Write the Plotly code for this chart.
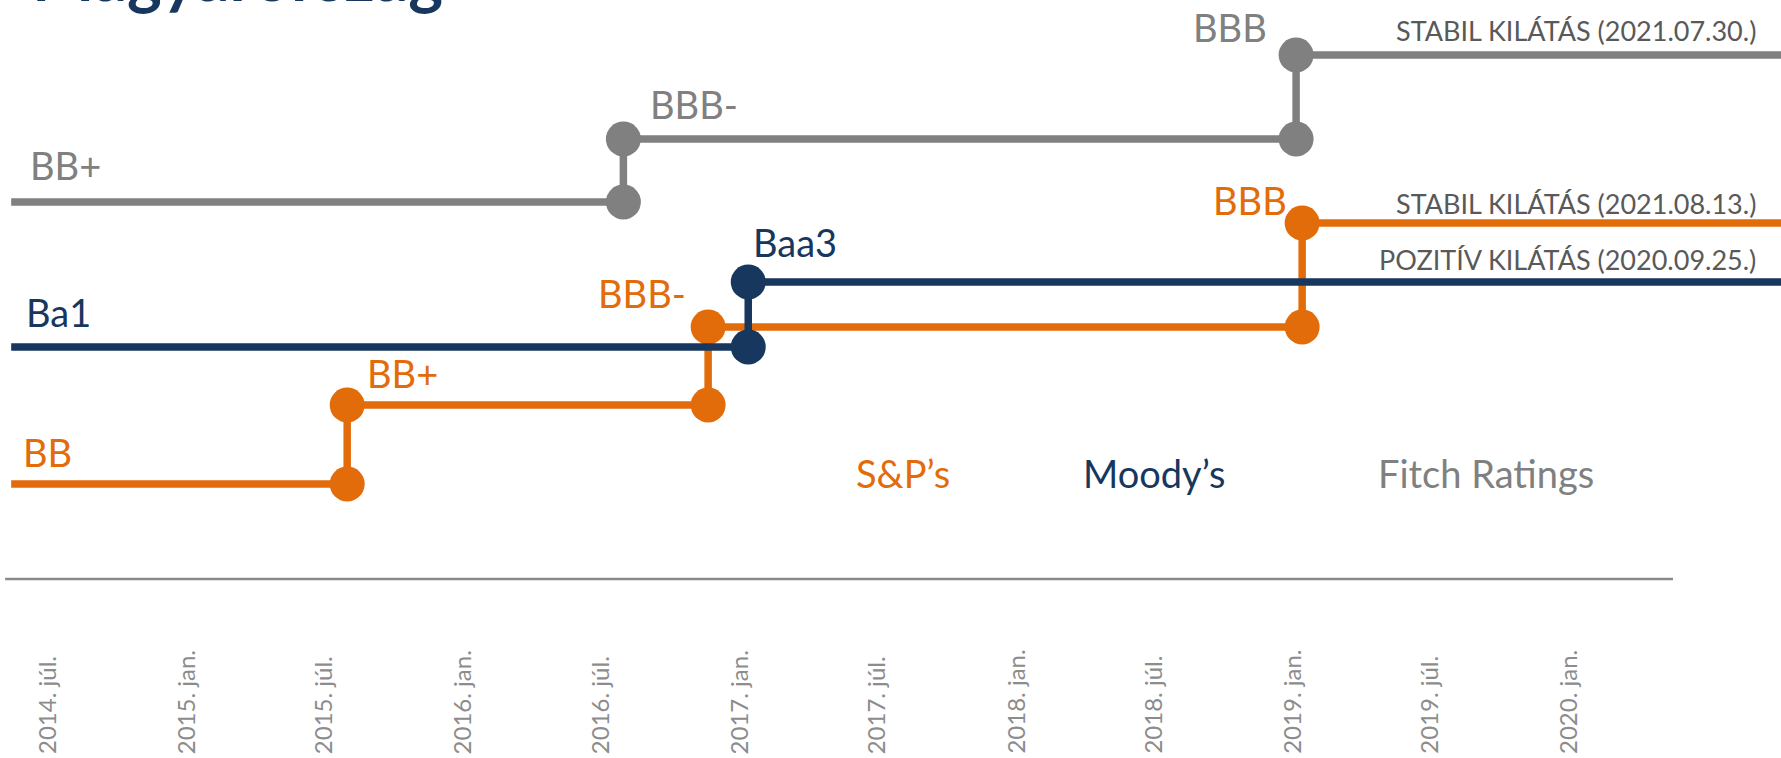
import plotly.graph_objects as go

# ---------------- data ----------------
series_start = "2014-05-16"
series_end = "2020-12-31"

fitch_dates = ["2014-05-16", "2016-08-02", "2019-01-08"]
fitch_levels = [377, 440, 524]
fitch_ratings = ["BB+", "BBB-", "BBB"]

sp_dates = ["2014-05-16", "2015-08-03", "2016-11-22", "2019-01-16"]
sp_levels = [95, 174, 252, 356]
sp_ratings = ["BB", "BB+", "BBB-", "BBB"]

moody_dates = ["2014-05-16", "2017-01-14"]
moody_levels = [232, 297]
moody_ratings = ["Ba1", "Baa3"]

tick_dates = ["2014-07-01", "2015-01-01", "2015-07-01", "2016-01-01", "2016-07-01",
              "2017-01-01", "2017-07-01", "2018-01-01", "2018-07-01", "2019-01-01",
              "2019-07-01", "2020-01-01"]
tick_labels = ["2014. júl.", "2015. jan.", "2015. júl.", "2016. jan.", "2016. júl.",
               "2017. jan.", "2017. júl.", "2018. jan.", "2018. júl.", "2019. jan.",
               "2019. júl.", "2020. jan."]

agency_names = ["S&P’s", "Moody’s", "Fitch Ratings"]
outlook_texts = ["STABIL KILÁTÁS (2021.07.30.)", "STABIL KILÁTÁS (2021.08.13.)",
                 "POZITÍV KILÁTÁS (2020.09.25.)"]
title_text = "Magyarország"

# ---------------- style ----------------
W, H = 1781, 758
ORANGE = "#E36C0A"
NAVY = "#17375E"
GRAY = "#808080"
OUTLOOK_GRAY = "#595959"
TICK_GRAY = "#8c8c8c"
FONT = "Lato, 'Open Sans', sans-serif"
LW = 7.5
MS = 35


def px(x):
    return x / W


def py(y):
    return 1 - y / H


fig = go.Figure()


def add_series(dates, levels, color):
    xs = list(dates) + [series_end]
    ys = list(levels) + [levels[-1]]
    fig.add_trace(go.Scatter(x=xs, y=ys, mode="lines", line=dict(color=color, width=LW, shape="hv"),
                             hoverinfo="skip", showlegend=False))
    mx, my = [], []
    for i in range(1, len(dates)):
        mx += [dates[i], dates[i]]
        my += [levels[i - 1], levels[i]]
    fig.add_trace(go.Scatter(x=mx, y=my, mode="markers", marker=dict(color=color, size=MS),
                             hoverinfo="skip", showlegend=False))


add_series(fitch_dates, fitch_levels, GRAY)
add_series(sp_dates, sp_levels, ORANGE)
add_series(moody_dates, moody_levels, NAVY)

annotations = []


def label(text, color, x, anchor, yc, size=38):
    annotations.append(dict(text=text, xref="paper", yref="paper", x=px(x), y=py(yc),
                            xanchor=anchor, yanchor="middle", showarrow=False,
                            font=dict(family=FONT, size=size, color=color)))


# rating labels
label(fitch_ratings[0], GRAY, 28, "left", 165)
label(fitch_ratings[1], GRAY, 648, "left", 104)
label(fitch_ratings[2], GRAY, 1269, "right", 27)
label(sp_ratings[0], ORANGE, 21, "left", 452)
label(sp_ratings[1], ORANGE, 365, "left", 373)
label(sp_ratings[2], ORANGE, 688, "right", 293)
label(sp_ratings[3], ORANGE, 1289, "right", 200)
label(moody_ratings[0], NAVY, 24, "left", 312)
label(moody_ratings[1], NAVY, 751, "left", 242)

# agency names
label(agency_names[0], ORANGE, 854, "left", 473)
label(agency_names[1], NAVY, 1081, "left", 473)
label(agency_names[2], GRAY, 1376, "left", 473)

# outlooks
label(outlook_texts[0], OUTLOOK_GRAY, 1758, "right", 30, size=27)
label(outlook_texts[1], OUTLOOK_GRAY, 1758, "right", 203, size=27)
label(outlook_texts[2], OUTLOOK_GRAY, 1758, "right", 260, size=27)

# clipped title (cut off by the top edge, as in the original)
annotations.append(dict(text="<b>" + title_text + "</b>", xref="paper", yref="paper",
                        x=px(445), y=py(17), xanchor="right", yanchor="bottom", showarrow=False,
                        font=dict(family=FONT, size=66, color=NAVY)))

# date tick labels
for d, t in zip(tick_dates, tick_labels):
    annotations.append(dict(text=t, xref="x", yref="paper", x=d, y=py(756),
                            xanchor="center", yanchor="bottom", textangle=-90, showarrow=False,
                            font=dict(family=FONT, size=24, color=TICK_GRAY)))

fig.add_shape(type="line", xref="x", yref="y", x0="2014-05-08", x1="2020-05-20", y0=0, y1=0,
              line=dict(color="#8a8a8a", width=2.5))

fig.update_layout(
    width=W, height=H,
    margin=dict(l=0, r=0, t=0, b=0),
    paper_bgcolor="white", plot_bgcolor="white",
    showlegend=False,
    xaxis=dict(type="date", range=["2014-05-01 05:00", "2020-10-09 19:00"], visible=False,
               showgrid=False, zeroline=False, fixedrange=True),
    yaxis=dict(range=[-179, 579], visible=False, showgrid=False, zeroline=False, fixedrange=True),
    annotations=annotations,
)

fig.write_html("out.html", config={"displayModeBar": False},
               post_script="document.body.style.margin='0';document.body.style.overflow='hidden';")
